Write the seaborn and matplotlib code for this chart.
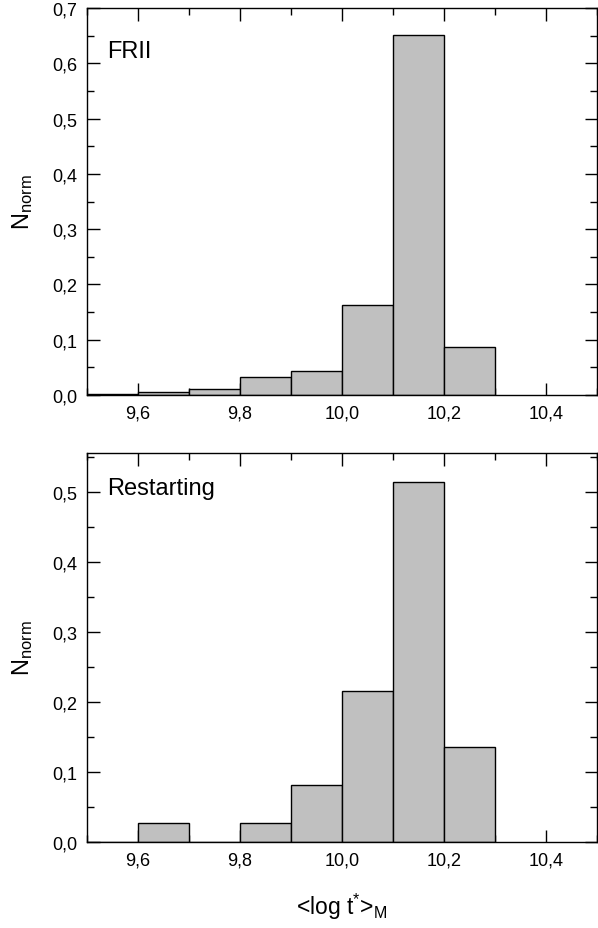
import numpy as np
import pandas as pd
import matplotlib
matplotlib.use("Agg")
import matplotlib.pyplot as plt
from matplotlib.ticker import MultipleLocator, FuncFormatter
import seaborn as sns

# Data
bin_edges = [9.5, 9.6, 9.7, 9.8, 9.9, 10.0, 10.1, 10.2, 10.3]
frii_values = [0.002, 0.005, 0.011, 0.033, 0.044, 0.163, 0.652, 0.087]
restarting_values = [0.0, 0.027, 0.0, 0.027, 0.081, 0.216, 0.514, 0.135]
panel_labels = ["FRII", "Restarting"]
xlabel = r"<log t$^{*}$>$_{\mathregular{M}}$"
ylabel = r"N$_{\mathregular{norm}}$"

sns.set_theme(style="ticks")
plt.rcParams['font.family'] = ['Liberation Sans', 'DejaVu Sans']
plt.rcParams['mathtext.fontset'] = 'custom'
plt.rcParams['mathtext.rm'] = 'Liberation Sans'
plt.rcParams['mathtext.it'] = 'Liberation Sans'
for k in ['text.color', 'axes.labelcolor', 'xtick.color', 'ytick.color',
          'xtick.labelcolor', 'ytick.labelcolor', 'axes.edgecolor']:
    plt.rcParams[k] = 'black'

fig = plt.figure(figsize=(5.98, 9.29), dpi=100)
ax1 = fig.add_axes([0.1455, 0.5737, 0.8525, 0.4166])
ax2 = fig.add_axes([0.1455, 0.0926, 0.8525, 0.4187])

centers = [(a + b) / 2 for a, b in zip(bin_edges[:-1], bin_edges[1:])]
comma = FuncFormatter(lambda v, p: f"{v:.1f}".replace(".", ","))

for ax, vals, lab, ymax, ty in [(ax1, frii_values, panel_labels[0], 0.7, 388 - 43),
                                 (ax2, restarting_values, panel_labels[1], 0.555, 389 - 36)]:
    df = pd.DataFrame({"x": centers, "w": vals})
    sns.histplot(data=df, x="x", weights="w", bins=bin_edges, stat="count",
                 color="#c0c0c0", edgecolor="black", linewidth=1.0, alpha=1.0, ax=ax)
    ax.set_xlim(9.5, 10.5)
    ax.set_ylim(0, ymax)
    ax.xaxis.set_major_locator(MultipleLocator(0.2))
    ax.xaxis.set_minor_locator(MultipleLocator(0.1))
    ax.yaxis.set_major_locator(MultipleLocator(0.1))
    ax.yaxis.set_minor_locator(MultipleLocator(0.05))
    ax.xaxis.set_major_formatter(comma)
    ax.yaxis.set_major_formatter(comma)
    ax.tick_params(which="both", direction="in", top=True, right=True,
                   labelsize=13, width=1.0, color="black")
    ax.tick_params(which="major", length=9, pad=7)
    ax.tick_params(which="minor", length=5)
    for s in ax.spines.values():
        s.set_linewidth(1.0)
        s.set_color("black")
    ax.set_ylabel(ylabel, fontsize=17, labelpad=12)
    ax.set_xlabel("")
    ax.text(0.04, ty / 388.0, lab, transform=ax.transAxes,
            fontsize=17, ha="left", va="center")
    ax.set_facecolor("white")

ax2.set_xlabel(xlabel, fontsize=16.5, labelpad=16)

fig.savefig("out.png", dpi=100)
